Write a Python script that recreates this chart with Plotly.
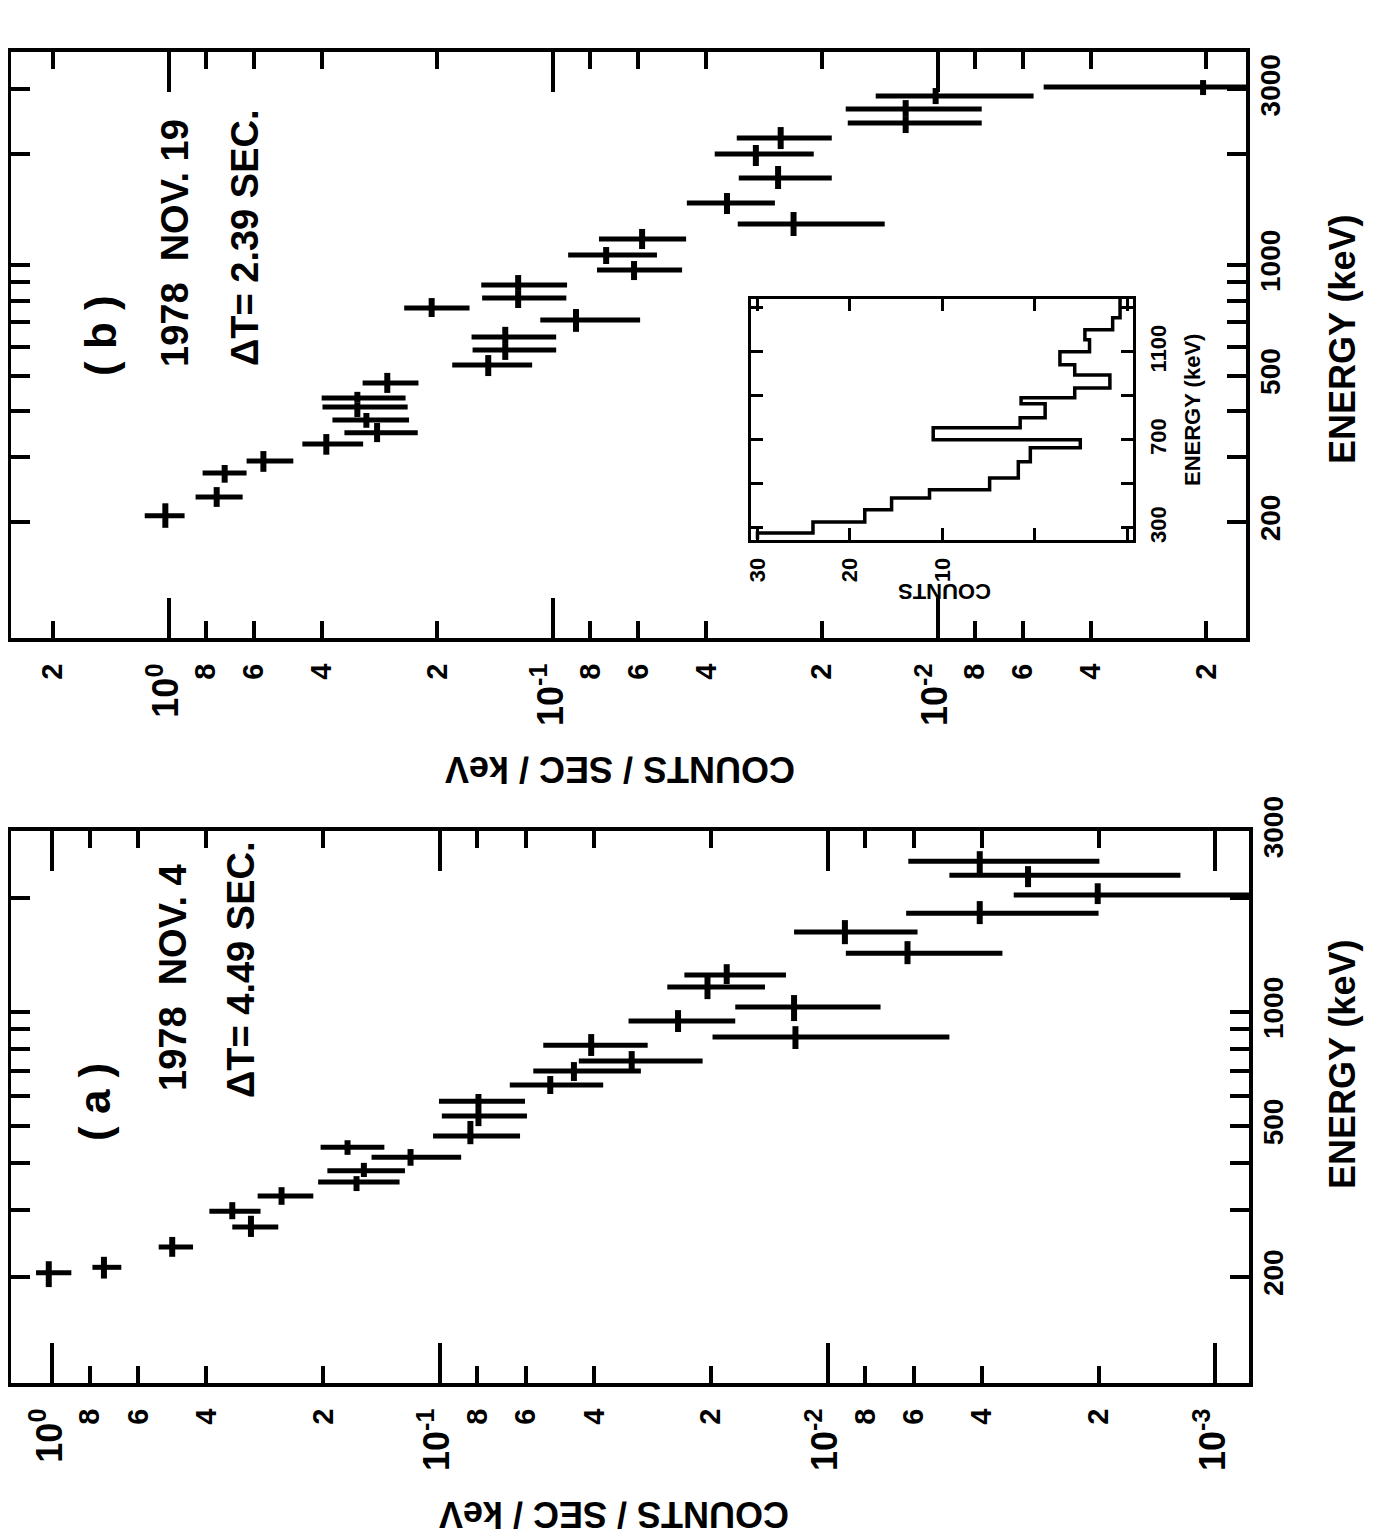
import plotly.graph_objects as go

W, H = 1379, 1537
OFF = 8  # the page body adds an 8 px margin around the figure
FONT = "Liberation Sans, Arial, sans-serif"

# ---------------- data: panel (a) 1978 Nov 4 ----------------
A_counts = [1.02, 0.735, 0.490, 0.343, 0.307, 0.256, 0.173, 0.157, 0.164, 0.119,
            0.0795, 0.0795, 0.0834, 0.0519, 0.0451, 0.0320, 0.0407, 0.0243, 0.0204, 0.0182,
            0.0122, 0.0121, 0.00902, 0.00622, 0.00405, 0.00405, 0.00304, 0.00201]
A_counts_hi = [1.10, 0.787, 0.531, 0.393, 0.343, 0.295, 0.203, 0.195, 0.206, 0.150,
               0.1005, 0.0988, 0.1041, 0.0660, 0.0574, 0.0438, 0.0541, 0.0326, 0.0259, 0.0234,
               0.0173, 0.0198, 0.0122, 0.00897, 0.00627, 0.00619, 0.00485, 0.00331]
A_counts_lo = [0.892, 0.663, 0.433, 0.290, 0.261, 0.212, 0.139, 0.123, 0.127, 0.0881,
               0.0603, 0.0596, 0.0621, 0.0379, 0.0303, 0.0210, 0.0291, 0.0173, 0.0145, 0.0128,
               0.0073, 0.00485, 0.00586, 0.00354, 0.0020, 0.00199, 0.00123, 0.0006]
A_energy = [205, 212, 240, 298, 271, 327, 440, 381, 356, 414,
            582, 532, 471, 642, 699, 743, 818, 947, 1164, 1252,
            1031, 859, 1626, 1431, 1824, 2500, 2298, 2036]
A_energy_lo = [188, 198, 226, 284, 255, 310, 420, 367, 337, 393,
               555, 500, 448, 608, 658, 703, 766, 886, 1082, 1186,
               947, 799, 1511, 1338, 1707, 2311, 2137, 1928]
A_energy_hi = [220, 226, 255, 315, 290, 345, 459, 400, 369, 435,
               608, 555, 516, 678, 738, 789, 875, 1012, 1260, 1338,
               1109, 918, 1749, 1539, 1963, 2659, 2428, 2188]

# ---------------- data: panel (b) 1978 Nov 19 ----------------
B_counts = [1.02, 0.750, 0.715, 0.567, 0.389, 0.270, 0.323, 0.323, 0.306, 0.287,
            0.207, 0.1475, 0.1332, 0.1332, 0.0872, 0.1233, 0.1233, 0.0587, 0.0728, 0.0616,
            0.0353, 0.0237, 0.0260, 0.0297, 0.0256, 0.01211, 0.01211, 0.01012, 0.00204]
B_counts_hi = [1.154, 0.851, 0.816, 0.627, 0.449, 0.313, 0.400, 0.398, 0.375, 0.349,
               0.244, 0.183, 0.163, 0.162, 0.108, 0.1538, 0.1530, 0.0760, 0.0914, 0.0769,
               0.0449, 0.0331, 0.0329, 0.0380, 0.0333, 0.01734, 0.01713, 0.01449, 0.0053]
B_counts_lo = [0.909, 0.642, 0.627, 0.474, 0.312, 0.224, 0.242, 0.239, 0.237, 0.225,
               0.165, 0.1134, 0.0982, 0.0982, 0.0594, 0.0920, 0.0924, 0.0451, 0.0537, 0.0462,
               0.0265, 0.01373, 0.01885, 0.0210, 0.01885, 0.00768, 0.00768, 0.00563, 0.0008]
B_energy = [208, 234, 272, 293, 326, 478, 435, 411, 379, 350,
            764, 535, 637, 587, 709, 882, 813, 1177, 1065, 969,
            1474, 1292, 1723, 2002, 2214, 2654, 2431, 2879, 3046]
B_energy_lo = [193, 220, 256, 274, 305, 449, 422, 386, 361, 330,
               722, 499, 610, 552, 658, 850, 764, 1105, 1006, 910,
               1376, 1199, 1609, 1858, 2066, 2540, 2284, 2738, 2897]
B_energy_hi = [225, 249, 286, 312, 347, 509, 452, 422, 396, 372,
               813, 569, 679, 610, 759, 939, 850, 1253, 1119, 1025,
               1569, 1393, 1858, 2119, 2371, 2807, 2540, 3027, 3182]

# ---------------- data: inset histogram (panel b) ----------------
INSET_EDGES = [250, 277, 327, 382, 436, 473, 527, 600, 664, 700, 755,
               800, 864, 891, 936, 995, 1041, 1100, 1155, 1200, 1255, 1340]
INSET_COUNTS = [30, 24, 18.4, 15.5, 11.4, 4.9, 1.8, 0.5, -4.9, 11, 1.6,
                -1.1, 1.5, -4.3, -8.1, -4.3, -2.7, -5.9, -5.4, -8.4, -9.2]

# ---------------- tick labels ----------------
DEC = "<span style='font-size:36px'>10<sup>%s</sup></span>"
COUNT_TICKS_A = [1, 0.8, 0.6, 0.4, 0.2, 0.1, 0.08, 0.06, 0.04, 0.02,
                 0.01, 0.008, 0.006, 0.004, 0.002, 0.001]
COUNT_TEXT_A = [DEC % "0", "8", "6", "4", "2", DEC % "-1", "8", "6", "4", "2",
                DEC % "-2", "8", "6", "4", "2", DEC % "-3"]
COUNT_TICKS_B = [2, 1, 0.8, 0.6, 0.4, 0.2, 0.1, 0.08, 0.06, 0.04, 0.02,
                 0.01, 0.008, 0.006, 0.004, 0.002]
COUNT_TEXT_B = ["2", DEC % "0", "8", "6", "4", "2", DEC % "-1", "8", "6", "4", "2",
                DEC % "-2", "8", "6", "4", "2"]
DECADES = [1, 0.1, 0.01, 0.001]
ENERGY_TICKS = [200, 500, 1000, 3000]
ENERGY_TEXT = ["200", "500", "1000", "3000"]
ENERGY_MINOR = [300, 400, 600, 700, 800, 900, 2000]
ENERGY_LONG = [1000]
INSET_CTICKS = [30, 20, 10]
INSET_CTEXT = ["30", "20", "10"]
INSET_CMINOR = [0, -10]
INSET_ETICKS = [300, 700, 1100]
INSET_ETEXT = ["300", "700", "1100"]
INSET_EMINOR = [500, 900, 1300]


def dx(a, b):
    return [(a - OFF) / W, (b - OFF) / W]


def dy(top, bottom):
    return [1 - (bottom - OFF) / H, 1 - (top - OFF) / H]


def px(x):
    return (x - OFF) / W


def py(y):
    return 1 - (y - OFF) / H


def err_trace(c, chi, clo, e, ehi, elo, xa, ya):
    return go.Scatter(
        x=c, y=e, mode="markers", xaxis=xa, yaxis=ya, showlegend=False,
        marker=dict(size=2, color="black"),
        error_x=dict(type="data", symmetric=False,
                     array=[h - v for h, v in zip(chi, c)],
                     arrayminus=[v - l for v, l in zip(c, clo)],
                     thickness=5, width=0, color="black"),
        error_y=dict(type="data", symmetric=False,
                     array=[h - v for h, v in zip(ehi, e)],
                     arrayminus=[v - l for v, l in zip(e, elo)],
                     thickness=6, width=0, color="black"),
    )


fig = go.Figure()
fig.add_trace(err_trace(A_counts, A_counts_hi, A_counts_lo,
                        A_energy, A_energy_hi, A_energy_lo, "x", "y"))
fig.add_trace(err_trace(B_counts, B_counts_hi, B_counts_lo,
                        B_energy, B_energy_hi, B_energy_lo, "x2", "y2"))

# inset histogram as a step path built from the bins
hx, hy = [], []
for i, cnt in enumerate(INSET_COUNTS):
    hx += [cnt, cnt]
    hy += [INSET_EDGES[i], INSET_EDGES[i + 1]]
fig.add_trace(go.Scatter(x=hx, y=hy, mode="lines", xaxis="x3", yaxis="y3",
                         showlegend=False, line=dict(color="black", width=3.5)))

tickfont = dict(family=FONT, size=29, color="black", weight="bold")
efont = dict(family=FONT, size=28, color="black", weight="bold")


def count_axis(domain, rng, tv, tt, anchor):
    return dict(type="log", domain=domain, range=rng, anchor=anchor,
                tickmode="array", tickvals=tv, ticktext=tt, tickangle=-90,
                ticks="inside", ticklen=17, tickwidth=4, tickcolor="black",
                showline=True, linewidth=4, linecolor="black", mirror="ticks",
                showgrid=False, zeroline=False, tickfont=tickfont,
                ticklabelstandoff=10, automargin=False,
                minor=dict(tickmode="array", tickvals=DECADES, ticks="inside",
                           ticklen=40, tickwidth=4, tickcolor="black", showgrid=False))


def energy_axis(domain, rng, anchor):
    return dict(type="log", domain=domain, range=rng, anchor=anchor, side="right",
                tickmode="array", tickvals=ENERGY_TICKS, ticktext=ENERGY_TEXT,
                tickangle=-90, ticks="inside", ticklen=19, tickwidth=4,
                tickcolor="black", showline=True, linewidth=4, linecolor="black",
                mirror="ticks", showgrid=False, zeroline=False, tickfont=efont,
                ticklabelstandoff=-4, automargin=False,
                minor=dict(tickmode="array", tickvals=ENERGY_MINOR, ticks="inside",
                           ticklen=19, tickwidth=4, tickcolor="black", showgrid=False))


def long_tick_axis(over, rng, anchor):
    # overlay axis that only carries the long 1000 keV ticks
    return dict(type="log", overlaying=over, range=rng, anchor=anchor, side="right",
                tickmode="array", tickvals=ENERGY_LONG, showticklabels=False,
                ticks="inside", ticklen=40, tickwidth=4, tickcolor="black",
                showline=True, linewidth=4, linecolor="black", mirror="ticks",
                showgrid=False, zeroline=False, automargin=False)


small = dict(family=FONT, size=22, color="black", weight="bold")
A_ERANGE = [2.021, 3.478]
B_ERANGE = [1.986, 3.579]

fig.update_layout(
    width=W, height=H, margin=dict(l=0, r=0, t=0, b=0),
    paper_bgcolor="white", plot_bgcolor="white", showlegend=False,
    xaxis=count_axis(dx(11, 1249), [0.106, -3.087], COUNT_TICKS_A, COUNT_TEXT_A, "y"),
    yaxis=energy_axis(dy(831, 1383), A_ERANGE, "x"),
    xaxis2=count_axis(dx(11, 1246), [0.41, -2.802], COUNT_TICKS_B, COUNT_TEXT_B, "y2"),
    yaxis2=energy_axis(dy(52, 638), B_ERANGE, "x2"),
    yaxis4=long_tick_axis("y", A_ERANGE, "x"),
    yaxis5=long_tick_axis("y2", B_ERANGE, "x2"),
    xaxis3=dict(domain=dx(751, 1133), range=[30.7, -10.6], anchor="y3",
                tickmode="array", tickvals=INSET_CTICKS, ticktext=INSET_CTEXT,
                tickangle=-90, ticks="inside", ticklen=12, tickwidth=3,
                tickcolor="black", showline=True, linewidth=3, linecolor="black",
                mirror="ticks", showgrid=False, zeroline=False, tickfont=small,
                ticklabelstandoff=6, automargin=False,
                minor=dict(tickmode="array", tickvals=INSET_CMINOR, ticks="inside",
                           ticklen=12, tickwidth=3, tickcolor="black", showgrid=False)),
    yaxis3=dict(domain=dy(299, 540), range=[245, 1340], anchor="x3", side="right",
                tickmode="array", tickvals=INSET_ETICKS, ticktext=INSET_ETEXT,
                tickangle=-90, ticks="inside", ticklen=12, tickwidth=3,
                tickcolor="black", showline=True, linewidth=3, linecolor="black",
                mirror="ticks", showgrid=False, zeroline=False, tickfont=small,
                ticklabelstandoff=4, automargin=False,
                minor=dict(tickmode="array", tickvals=INSET_EMINOR, ticks="inside",
                           ticklen=12, tickwidth=3, tickcolor="black", showgrid=False)),
)

big = dict(family=FONT, size=44, color="black", weight="bold")
info = dict(family=FONT, size=38, color="black", weight="bold")
title_font = dict(family=FONT, size=36, color="black", weight="bold")
ann = [
    ("( a )", 94, 1102, -90, big),
    ("1978  NOV. 4", 173, 978, -90, info),
    ("ΔT= 4.49 SEC.", 241, 970, -90, info),
    ("( b )", 100, 336, -90, big),
    ("1978  NOV. 19", 175, 243, -90, info),
    ("ΔT= 2.39 SEC.", 245, 238, -90, info),
    ("COUNTS / SEC / keV", 614, 1515, 180, title_font),
    ("COUNTS / SEC / keV", 620, 770, 180, title_font),
    ("ENERGY (keV)", 1342, 1065, -90, title_font),
    ("ENERGY (keV)", 1343, 340, -90, title_font),
    ("COUNTS", 945, 592, 180, small),
    ("ENERGY (keV)", 1192, 410, -90, small),
]
for text, x, y, ang, f in ann:
    fig.add_annotation(text=text, x=px(x), y=py(y), xref="paper", yref="paper",
                       showarrow=False, textangle=ang, font=f,
                       xanchor="center", yanchor="middle")

fig.write_html("out.html")
